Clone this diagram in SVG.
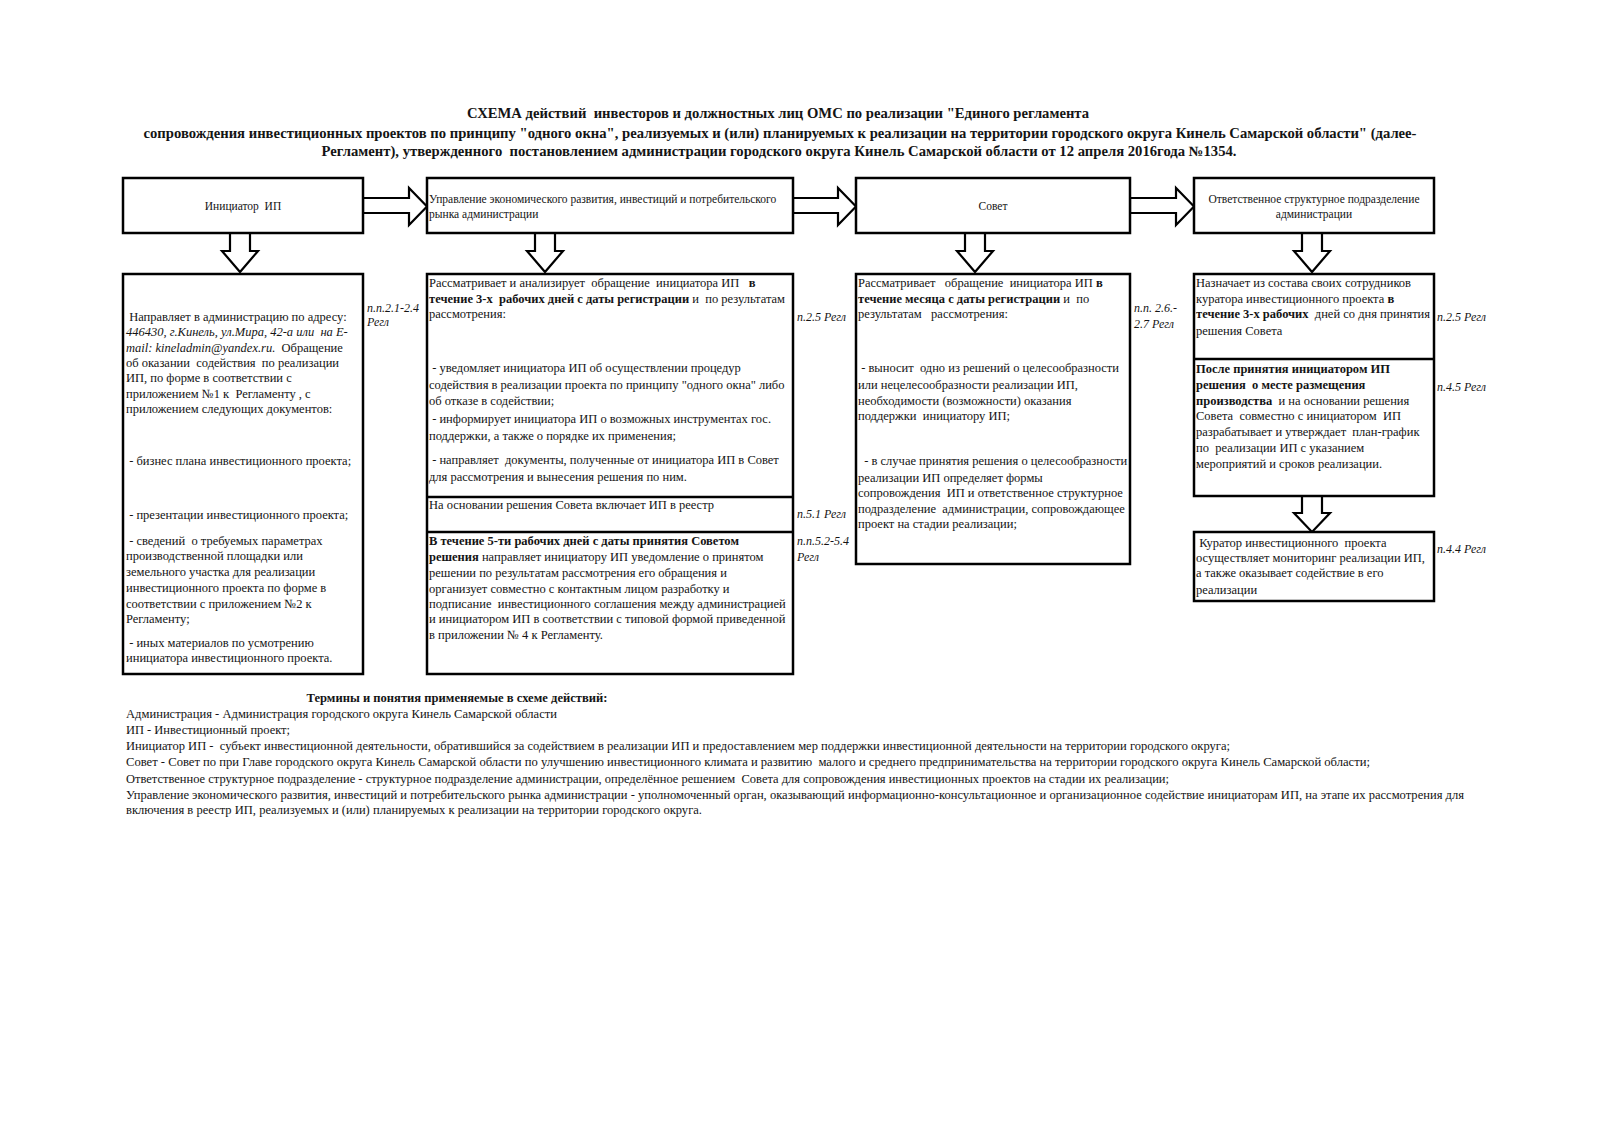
<svg xmlns="http://www.w3.org/2000/svg" width="1600" height="1131" viewBox="0 0 1600 1131" xml:space="preserve">
<style>
text{font-family:"Liberation Serif","Times New Roman",serif;fill:#141414;white-space:pre}
.t{font-size:14px;font-weight:bold}
.h{font-size:11.5px}
.b{font-size:12.5px}
.a{font-size:12px;font-style:italic}
.g{font-size:12.5px}
.bo{font-weight:bold}
.it{font-style:italic}
.box{fill:#fff;stroke:#000;stroke-width:2.5}
.div{stroke:#000;stroke-width:2.5}
.arr{fill:#fff;stroke:#000;stroke-width:2.2;stroke-linejoin:miter}
</style>
<rect width="1600" height="1131" fill="#fff"/>
<g id="title">
<text class="t" x="778" y="118" text-anchor="middle" textLength="622" lengthAdjust="spacingAndGlyphs">СХЕМА действий  инвесторов и должностных лиц ОМС по реализации "Единого регламента</text>
<text class="t" x="780" y="138" text-anchor="middle" textLength="1273" lengthAdjust="spacingAndGlyphs">сопровождения инвестиционных проектов по принципу "одного окна", реализуемых и (или) планируемых к реализации на территории городского округа Кинель Самарской области" (далее-</text>
<text class="t" x="779" y="156" text-anchor="middle" textLength="915" lengthAdjust="spacingAndGlyphs">Регламент), утвержденного  постановлением администрации городского округа Кинель Самарской области от 12 апреля 2016года №1354.</text>
</g>
<g id="connectors">
<polygon class="arr" points="363,198 409,198 409,188 427,206.5 409,225 409,213 363,213"/>
<polygon class="arr" points="793,198 838,198 838,188 856,206.5 838,225 838,213 793,213"/>
<polygon class="arr" points="1130,198 1176,198 1176,188 1194,206.5 1176,225 1176,213 1130,213"/>
<polygon class="arr" points="230,233 250,233 250,251 258,251 240,272 222,251 230,251"/>
<polygon class="arr" points="535,233 555,233 555,251 563,251 545,272 527,251 535,251"/>
<polygon class="arr" points="965,233 985,233 985,251 993,251 975,272 957,251 965,251"/>
<polygon class="arr" points="1302,233 1322,233 1322,251 1330,251 1312,272 1294,251 1302,251"/>
<polygon class="arr" points="1302,496 1322,496 1322,513 1330,513 1312,532 1294,513 1302,513"/>
</g>
<g id="node-initiator">
<rect class="box" x="123" y="178" width="240" height="55"/>
<text class="h" x="243" y="210" text-anchor="middle">Инициатор  ИП</text>
</g>
<g id="node-upravlenie">
<rect class="box" x="427" y="178" width="366" height="55"/>
<text class="h" x="429" y="203">Управление экономического развития, инвестиций и потребительского</text>
<text class="h" x="429" y="218">рынка администрации</text>
</g>
<g id="node-sovet">
<rect class="box" x="856" y="178" width="274" height="55"/>
<text class="h" x="993" y="210" text-anchor="middle">Совет</text>
</g>
<g id="node-otv">
<rect class="box" x="1194" y="178" width="240" height="55"/>
<text class="h" x="1314" y="203" text-anchor="middle">Ответственное структурное подразделение</text>
<text class="h" x="1314" y="218" text-anchor="middle">администрации</text>
</g>
<g id="node-initiator-actions">
<rect class="box" x="123" y="274" width="240" height="400"/>
<text class="b" x="126" y="321"> Направляет в администрацию по адресу:</text>
<text class="b it" x="126" y="336">446430, г.Кинель, ул.Мира, 42-а или  на E-</text>
<text class="b" x="126" y="352"><tspan class="it">mail: kineladmin@yandex.ru.</tspan>  Обращение</text>
<text class="b" x="126" y="367">об оказании  содействия  по реализации</text>
<text class="b" x="126" y="382">ИП, по форме в соответствии с</text>
<text class="b" x="126" y="398">приложением №1 к  Регламенту , с</text>
<text class="b" x="126" y="413">приложением следующих документов:</text>
<text class="b" x="126" y="465"> - бизнес плана инвестиционного проекта;</text>
<text class="b" x="126" y="519"> - презентации инвестиционного проекта;</text>
<text class="b" x="126" y="545"> - сведений  о требуемых параметрах</text>
<text class="b" x="126" y="560">производственной площадки или</text>
<text class="b" x="126" y="576">земельного участка для реализации</text>
<text class="b" x="126" y="592">инвестиционного проекта по форме в</text>
<text class="b" x="126" y="608">соответствии с приложением №2 к</text>
<text class="b" x="126" y="623">Регламенту;</text>
<text class="b" x="126" y="647"> - иных материалов по усмотрению</text>
<text class="b" x="126" y="662">инициатора инвестиционного проекта.</text>
<text class="a" x="367" y="312">п.п.2.1-2.4</text>
<text class="a" x="367" y="326">Регл</text>
</g>
<g id="node-upravlenie-actions">
<rect class="box" x="427" y="274" width="366" height="400"/>
<line class="div" x1="427" y1="497" x2="793" y2="497"/>
<line class="div" x1="427" y1="532" x2="793" y2="532"/>
<text class="b" x="429" y="287">Рассматривает и анализирует  обращение  инициатора ИП   <tspan class="bo">в</tspan></text>
<text class="b" x="429" y="303"><tspan class="bo">течение 3-х  рабочих дней с даты регистрации</tspan> и  по результатам</text>
<text class="b" x="429" y="318">рассмотрения:</text>
<text class="b" x="429" y="372"> - уведомляет инициатора ИП об осуществлении процедур</text>
<text class="b" x="429" y="389">содействия в реализации проекта по принципу "одного окна" либо</text>
<text class="b" x="429" y="405">об отказе в содействии;</text>
<text class="b" x="429" y="423"> - информирует инициатора ИП о возможных инструментах гос.</text>
<text class="b" x="429" y="440">поддержки, а также о порядке их применения;</text>
<text class="b" x="429" y="464"> - направляет  документы, полученные от инициатора ИП в Совет</text>
<text class="b" x="429" y="481">для рассмотрения и вынесения решения по ним.</text>
<text class="b" x="429" y="509">На основании решения Совета включает ИП в реестр</text>
<text class="b bo" x="429" y="545">В течение 5-ти рабочих дней с даты принятия Советом</text>
<text class="b" x="429" y="561"><tspan class="bo">решения</tspan> направляет инициатору ИП уведомление о принятом</text>
<text class="b" x="429" y="577">решении по результатам рассмотрения его обращения и</text>
<text class="b" x="429" y="593">организует совместно с контактным лицом разработку и</text>
<text class="b" x="429" y="608">подписание  инвестиционного соглашения между администрацией</text>
<text class="b" x="429" y="623">и инициатором ИП в соответствии с типовой формой приведенной</text>
<text class="b" x="429" y="639">в приложении № 4 к Регламенту.</text>
<text class="a" x="797" y="321">п.2.5 Регл</text>
<text class="a" x="797" y="518">п.5.1 Регл</text>
<text class="a" x="797" y="545">п.п.5.2-5.4</text>
<text class="a" x="797" y="561">Регл</text>
</g>
<g id="node-sovet-actions">
<rect class="box" x="856" y="274" width="274" height="290"/>
<text class="b" x="858" y="287">Рассматривает   обращение  инициатора ИП <tspan class="bo">в</tspan></text>
<text class="b" x="858" y="303"><tspan class="bo">течение месяца с даты регистрации</tspan> и  по</text>
<text class="b" x="858" y="318">результатам   рассмотрения:</text>
<text class="b" x="858" y="372"> - выносит  одно из решений о целесообразности</text>
<text class="b" x="858" y="389">или нецелесообразности реализации ИП,</text>
<text class="b" x="858" y="405">необходимости (возможности) оказания</text>
<text class="b" x="858" y="420">поддержки  инициатору ИП;</text>
<text class="b" x="858" y="465">  - в случае принятия решения о целесообразности</text>
<text class="b" x="858" y="482">реализации ИП определяет формы</text>
<text class="b" x="858" y="497">сопровождения  ИП и ответственное структурное</text>
<text class="b" x="858" y="513">подразделение  администрации, сопровождающее</text>
<text class="b" x="858" y="528">проект на стадии реализации;</text>
<text class="a" x="1134" y="312">п.п. 2.6.-</text>
<text class="a" x="1134" y="328">2.7 Регл</text>
</g>
<g id="node-otv-actions">
<rect class="box" x="1194" y="274" width="240" height="222"/>
<line class="div" x1="1194" y1="359" x2="1434" y2="359"/>
<text class="b" x="1196" y="287">Назначает из состава своих сотрудников</text>
<text class="b" x="1196" y="303">куратора инвестиционного проекта <tspan class="bo">в</tspan></text>
<text class="b" x="1196" y="318"><tspan class="bo">течение 3-х рабочих</tspan>  дней со дня принятия</text>
<text class="b" x="1196" y="335">решения Совета</text>
<text class="b bo" x="1196" y="373">После принятия инициатором ИП</text>
<text class="b bo" x="1196" y="389">решения  о месте размещения</text>
<text class="b" x="1196" y="405"><tspan class="bo">производства</tspan>  и на основании решения</text>
<text class="b" x="1196" y="420">Совета  совместно с инициатором  ИП</text>
<text class="b" x="1196" y="436">разрабатывает и утверждает  план-график</text>
<text class="b" x="1196" y="452">по  реализации ИП с указанием</text>
<text class="b" x="1196" y="468">мероприятий и сроков реализации.</text>
<text class="a" x="1437" y="321">п.2.5 Регл</text>
<text class="a" x="1437" y="391">п.4.5 Регл</text>
</g>
<g id="node-kurator">
<rect class="box" x="1194" y="532" width="240" height="69"/>
<text class="b" x="1196" y="547"> Куратор инвестиционного  проекта</text>
<text class="b" x="1196" y="562">осуществляет мониторинг реализации ИП,</text>
<text class="b" x="1196" y="577">а также оказывает содействие в его</text>
<text class="b" x="1196" y="594">реализации</text>
<text class="a" x="1437" y="553">п.4.4 Регл</text>
</g>
<g id="terms">
<text class="g bo" x="457" y="702" text-anchor="middle" textLength="301" lengthAdjust="spacingAndGlyphs">Термины и понятия применяемые в схеме действий:</text>
<text class="g" x="126" y="718" textLength="431" lengthAdjust="spacingAndGlyphs">Администрация - Администрация городского округа Кинель Самарской области</text>
<text class="g" x="126" y="734" textLength="164" lengthAdjust="spacingAndGlyphs">ИП - Инвестиционный проект;</text>
<text class="g" x="126" y="750" textLength="1104" lengthAdjust="spacingAndGlyphs">Инициатор ИП -  субъект инвестиционной деятельности, обратившийся за содействием в реализации ИП и предоставлением мер поддержки инвестиционной деятельности на территории городского округа;</text>
<text class="g" x="126" y="766" textLength="1244" lengthAdjust="spacingAndGlyphs">Совет - Совет по при Главе городского округа Кинель Самарской области по улучшению инвестиционного климата и развитию  малого и среднего предпринимательства на территории городского округа Кинель Самарской области;</text>
<text class="g" x="126" y="783" textLength="1043" lengthAdjust="spacingAndGlyphs">Ответственное структурное подразделение - структурное подразделение администрации, определённое решением  Совета для сопровождения инвестиционных проектов на стадии их реализации;</text>
<text class="g" x="126" y="799" textLength="1338" lengthAdjust="spacingAndGlyphs">Управление экономического развития, инвестиций и потребительского рынка администрации - уполномоченный орган, оказывающий информационно-консультационное и организационное содействие инициаторам ИП, на этапе их рассмотрения для</text>
<text class="g" x="126" y="814" textLength="576" lengthAdjust="spacingAndGlyphs">включения в реестр ИП, реализуемых и (или) планируемых к реализации на территории городского округа.</text>
</g>
</svg>
